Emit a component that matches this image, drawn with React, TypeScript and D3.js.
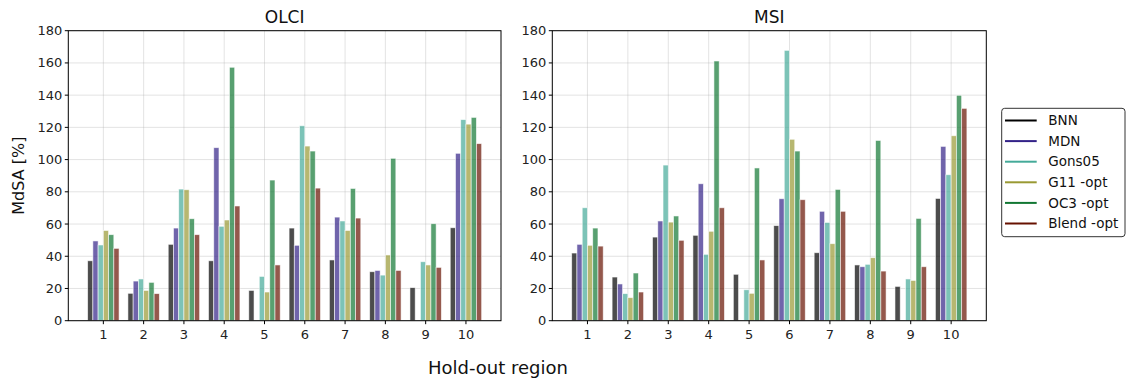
import React from "react";
import * as d3 from "d3";

const width = 1128;
const height = 380;

const regions = [1, 2, 3, 4, 5, 6, 7, 8, 9, 10];
const models = ["BNN", "MDN", "Gons05", "G11 -opt", "OC3 -opt", "Blend -opt"];
const colors = ["#000000", "#332288", "#44AA99", "#999933", "#117733", "#661100"];
const yTicks = [0, 20, 40, 60, 80, 100, 120, 140, 160, 180];

// MdSA [%] per model, one value per hold-out region (null = no bar)
const olciBNN = [37.2, 17, 47.4, 37.2, 18.8, 57.5, 37.7, 30.4, 20.5, 57.7];
const olciMDN = [49.5, 24.6, 57.5, 107.4, null, 46.8, 64.3, 31.2, null, 103.9];
const olciGons = [47, 25.9, 81.7, 58.6, 27.5, 121, 61.9, 28.3, 36.6, 124.8];
const olciG11 = [56, 18.8, 81.3, 62.5, 17.8, 108.4, 56, 40.8, 34.6, 122];
const olciOC3 = [53.4, 23.8, 63.3, 157.3, 87.3, 105.3, 82.1, 100.8, 60.2, 126.2];
const olciBlend = [44.9, 16.8, 53.4, 71.2, 34.6, 82.3, 63.7, 31.2, 33.1, 109.9];

const msiBNN = [42, 27.1, 51.9, 53, 28.8, 59, 42.2, 34.6, 21.3, 75.9];
const msiMDN = [47.4, 22.8, 61.9, 85, null, 75.7, 67.9, 33.5, null, 108.2];
const msiGons = [70.1, 16.8, 96.6, 41.2, 19.2, 167.8, 61, 35, 25.9, 90.6];
const msiG11 = [46.8, 14.3, 61.2, 55.5, 17, 112.6, 47.8, 39.1, 25, 114.8];
const msiOC3 = [57.5, 29.6, 65, 161.2, 94.8, 105.3, 81.5, 111.9, 63.5, 139.9];
const msiBlend = [46.3, 17.8, 49.9, 70.1, 37.7, 75.1, 67.9, 30.8, 33.5, 131.8];

const font = "DejaVu Sans, sans-serif";
const barW = 0.13;

type Series = (number | null)[][];

function Panel({ title, left, right, series, showYLabel }: { title: string; left: number; right: number; series: Series; showYLabel?: boolean }) {
  const top = 30.7;
  const bottom = 320.7;
  const x = d3.scaleLinear().domain([0.13, 10.87]).range([left, right]);
  const y = d3.scaleLinear().domain([0, 180]).range([bottom, top]);
  return (
    <g>
      {regions.map((r) => (
        <line key={"gx" + r} x1={x(r)} x2={x(r)} y1={top} y2={bottom} stroke="#b0b0b0" strokeOpacity={0.35} strokeWidth={1} />
      ))}
      {yTicks.map((t) => (
        <line key={"gy" + t} x1={left} x2={right} y1={y(t)} y2={y(t)} stroke="#b0b0b0" strokeOpacity={0.35} strokeWidth={1} />
      ))}
      {series.map((vals, si) =>
        vals.map((v, ri) =>
          v == null ? null : (
            <rect
              key={si + "-" + ri}
              x={x(regions[ri] + (si - 2.5) * barW - barW / 2)}
              y={y(v)}
              width={x(barW) - x(0)}
              height={y(0) - y(v)}
              fill={colors[si]}
              fillOpacity={0.7}
              stroke="#ffffff"
              strokeOpacity={0.7}
              strokeWidth={0.8}
            />
          )
        )
      )}
      <rect x={left} y={top} width={right - left} height={bottom - top} fill="none" stroke="#000" strokeWidth={1} />
      {yTicks.map((t) => (
        <g key={"yt" + t}>
          <line x1={left - 3.5} x2={left} y1={y(t)} y2={y(t)} stroke="#000" />
          <text x={left - 6} y={y(t)} dy="0.35em" textAnchor="end" fontSize={13} fontFamily={font} fill="#222">{t}</text>
        </g>
      ))}
      {regions.map((r) => (
        <g key={"xt" + r}>
          <line x1={x(r)} x2={x(r)} y1={bottom} y2={bottom + 3.5} stroke="#000" />
          <text x={x(r)} y={bottom + 18} textAnchor="middle" fontSize={13} fontFamily={font} fill="#222">{r}</text>
        </g>
      ))}
      <text x={(left + right) / 2} y={23} textAnchor="middle" fontSize={17} fontFamily={font} fill="#111">{title}</text>
      {showYLabel && (
        <text transform={`translate(24,${(top + bottom) / 2}) rotate(-90)`} textAnchor="middle" fontSize={16} fontFamily={font} fill="#111">MdSA [%]</text>
      )}
    </g>
  );
}

export default function App() {
  const legendY = d3.scaleLinear().domain([0, 5]).range([120.5, 223.5]);
  return (
    <svg width={width} height={height} style={{ position: "absolute", left: 0, top: 0 }}>
      <rect width={width} height={height} fill="#fff" />
      <Panel title="OLCI" left={68.3} right={501} series={[olciBNN, olciMDN, olciGons, olciG11, olciOC3, olciBlend]} showYLabel />
      <Panel title="MSI" left={552.3} right={986.3} series={[msiBNN, msiMDN, msiGons, msiG11, msiOC3, msiBlend]} />
      <text x={498} y={374} textAnchor="middle" fontSize={18} fontFamily={font} fill="#111">Hold-out region</text>
      <rect x={1001.7} y={108.3} width={123.3} height={128.4} rx={3} fill="#fff" stroke="#333" strokeWidth={1} />
      {models.map((m, i) => (
        <g key={m}>
          <line x1={1005} x2={1036.7} y1={legendY(i)} y2={legendY(i)} stroke={colors[i]} strokeWidth={2} />
          <text x={1048.3} y={legendY(i)} dy="0.35em" fontSize={13.5} fontFamily={font} fill="#111">{m}</text>
        </g>
      ))}
    </svg>
  );
}
